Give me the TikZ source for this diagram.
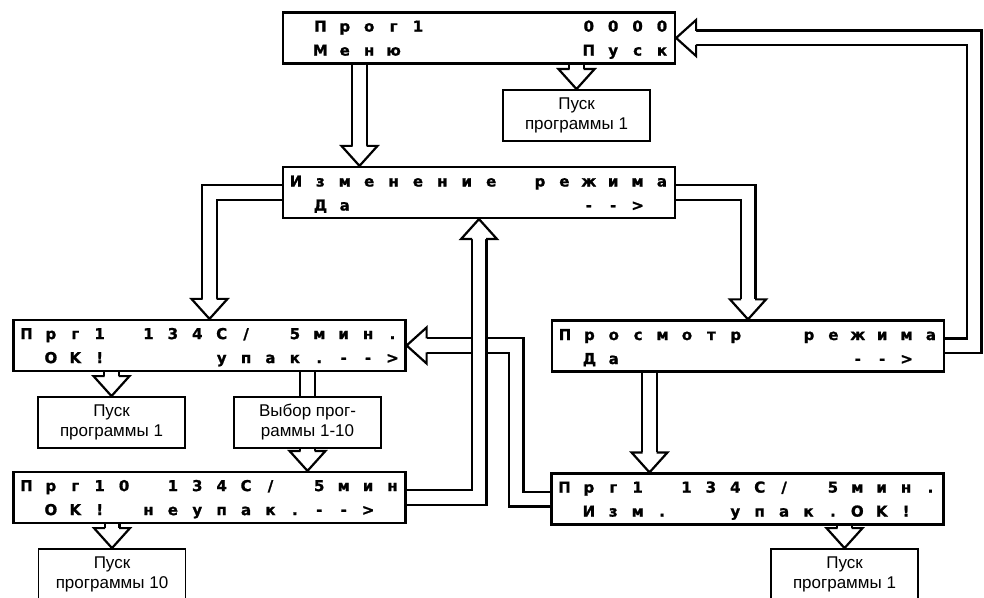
\documentclass[tikz,border=0pt]{standalone}
\usepackage{fontspec}
\setmainfont{Liberation Sans}
\newfontfamily\lcdfont{DejaVu Sans}[BoldFeatures={FakeBold=1.2}]
\usetikzlibrary{calc}

%% one glyph per display cell, * marks an empty cell
\let\lcdend\relax
\newcommand\lcdcell[1]{\makebox[12.2pt]{\ifx*#1\else#1\fi}}
\newcommand\lcdrun[1]{\ifx\lcdend#1\else\lcdcell{#1}\expandafter\lcdrun\fi}
\newcommand\lcd[1]{\rule[-1pt]{0pt}{8.2pt}\lcdrun#1\lcdend}

\begin{document}
\begin{tikzpicture}[
      x=0.5pt, y=-0.5pt,
      lcdbox/.style={rectangle, draw=black, line width=1.1pt, fill=white,
                     minimum width=196pt, minimum height=25.5pt, inner sep=0pt,
                     align=center, font=\lcdfont\bfseries\fontsize{7.5}{12}\selectfont},
      runbox/.style={rectangle, draw=black, line width=0.9pt, fill=white,
                     minimum width=73.5pt, minimum height=25.5pt, inner sep=0pt,
                     align=center, font=\fontsize{8.5}{10}\selectfont},
      hollow/.style={line width=1.1pt, double=white, double distance=6.3pt,
                     line join=miter},
      hhead/.pic={
        \fill[white] (0,0) -- (-20,-18) -- (-20,18) -- cycle;
        \draw[line width=1.1pt, line join=miter]
            (-20,-7) -- (-20,-18) -- (0,0) -- (-20,18) -- (-20,7);
      }
    ]
  \fill[white] (0,0) rectangle (984,598);
  \useasboundingbox (0,0) rectangle (984,598);

  %% display screens
  \node[lcdbox] (prog)  at (479,38)      {\lcd{*Прог1******0000}\\\lcd{*Меню*******Пуск}};
  \node[lcdbox] (mode)  at (479,192.5)   {\lcd{Изменение*режима}\\\lcd{*Да*********-->*}};
  \node[lcdbox] (prg1)  at (209.5,345.5) {\lcd{Прг1*134C/*5мин.}\\\lcd{*OK!****упак.-->}};
  \node[lcdbox] (view)  at (748,346)     {\lcd{Просмотр**режима}\\\lcd{*Да*********-->*}};
  \node[lcdbox] (prg10) at (209.5,497.5) {\lcd{Прг10*134C/*5мин}\\\lcd{*OK!*неупак.-->*}};
  \node[lcdbox] (edit)  at (747.5,499)   {\lcd{Прг1*134C/*5мин.}\\\lcd{*Изм.**упак.OK!*}};

  %% actions
  \node[runbox] (runA)  at (576.5,115.5) {Пуск\\программы 1};
  \node[runbox] (run1)  at (111.5,422.5) {Пуск\\программы 1};
  \node[runbox] (pick)  at (307.5,422.5) {Выбор прог-\\раммы 1-10};
  \node[runbox] (run10) at (112,574.5)   {Пуск\\программы 10};
  \node[runbox] (runB)  at (844.5,574.5) {Пуск\\программы 1};

  %% hollow arrows between screens
  \draw[hollow] ($(prog.south)+(-119.5,0)$) -- ($(mode.north)+(-119.5,-20)$);
  \pic[rotate=-90] at ($(mode.north)+(-119.5,0)$) {hhead};

  \draw[hollow] (mode.west) -- (prg1.north |- mode.west) -- ($(prg1.north)+(0,-20)$);
  \pic[rotate=-90] at (prg1.north) {hhead};

  \draw[hollow] (mode.east) -- (view.north |- mode.east) -- ($(view.north)+(0,-20)$);
  \pic[rotate=-90] at (view.north) {hhead};

  \draw[hollow] (view.east) -| ($(prog.east)+(298,0)$) -- ($(prog.east)+(20,0)$);
  \pic[rotate=180] at (prog.east) {hhead};

  \draw[hollow] ($(view.south)+(-98.5,0)$) -- ($(edit.north)+(-98,-20)$);
  \pic[rotate=-90] at ($(edit.north)+(-98,0)$) {hhead};

  \draw[hollow] (edit.west) -| ($(prg1.east)+(109.5,0)$) -- ($(prg1.east)+(20,0)$);
  \pic[rotate=180] at (prg1.east) {hhead};

  \draw[hollow] (prg10.east) -| ($(mode.south)+(0,20)$);
  \pic[rotate=90] at (mode.south) {hhead};

  %% hollow arrows to actions
  \draw[hollow] (runA.north |- prog.south) -- ($(runA.north)+(0,-20)$);
  \pic[rotate=-90] at (runA.north) {hhead};

  \draw[hollow] (run1.north |- prg1.south) -- ($(run1.north)+(0,-20)$);
  \pic[rotate=-90] at (run1.north) {hhead};

  \draw[hollow] (pick.north |- prg1.south) -- (pick.north);
  \draw[hollow] (pick.south) -- ($(pick.south |- prg10.north)+(0,-20)$);
  \pic[rotate=-90] at (pick.south |- prg10.north) {hhead};

  \draw[hollow] (run10.north |- prg10.south) -- ($(run10.north)+(0,-20)$);
  \pic[rotate=-90] at (run10.north) {hhead};

  \draw[hollow] (runB.north |- edit.south) -- ($(runB.north)+(0,-20)$);
  \pic[rotate=-90] at (runB.north) {hhead};
\end{tikzpicture}
\end{document}
